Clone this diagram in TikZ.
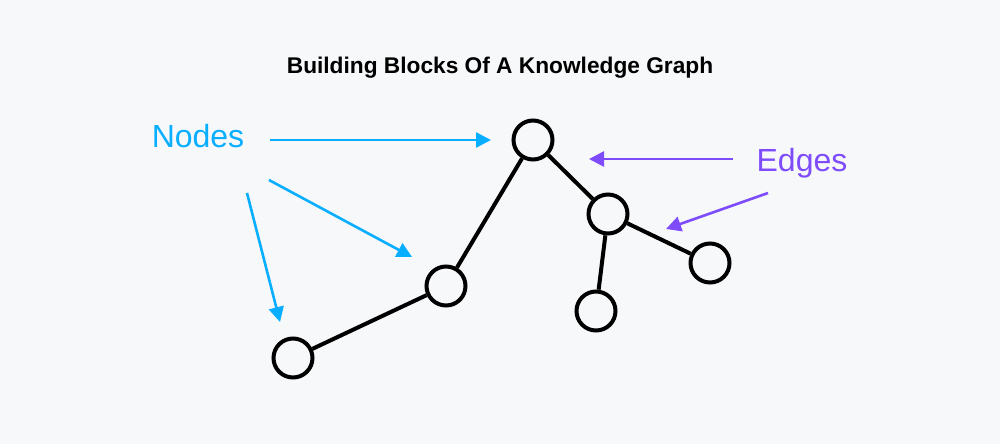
\documentclass[tikz,border=0pt]{standalone}
\usepackage{fontspec}
\setmainfont{Liberation Sans}
\usetikzlibrary{arrows.meta}
\definecolor{bgc}{RGB}{247,248,250}
\definecolor{nodeblue}{RGB}{8,174,255}
\definecolor{edgepurple}{RGB}{126,76,250}
\tikzset{
  kgnode/.style={circle,draw=black,line width=4pt,minimum size=39pt,inner sep=0pt,fill=bgc},
  kgedge/.style={line width=4pt,draw=black},
  bluearrow/.style={draw=nodeblue,line width=2.6pt,-{Triangle[length=15pt,width=15pt]}},
  purplearrow/.style={draw=edgepurple,line width=2.6pt,-{Triangle[length=15pt,width=15pt]}},
  lbl/.style={font=\fontsize{32}{37}\selectfont,inner sep=0pt}
}
\begin{document}
\begin{tikzpicture}[x=1pt,y=-1pt]
\fill[bgc] (0,0) rectangle (1000,444);
\useasboundingbox (0,0) rectangle (1000,444);
\node[font=\bfseries\fontsize{22.7}{27}\selectfont] (title) at (500,68) {Building Blocks Of A Knowledge Graph};
% graph nodes
\node[kgnode] (n1) at (533,140) {};
\node[kgnode] (n2) at (608,214) {};
\node[kgnode] (n3) at (710,263) {};
\node[kgnode] (n4) at (596,311) {};
\node[kgnode] (n5) at (446,286) {};
\node[kgnode] (n6) at (293,358) {};
\draw[kgedge] (n6) -- (n5);
\draw[kgedge] (n5) -- (n1);
\draw[kgedge] (n1) -- (n2);
\draw[kgedge] (n2) -- (n3);
\draw[kgedge] (n2) -- (n4);
% labels
\node[lbl,text=nodeblue] (nodes) at (198,136) {Nodes};
\node[lbl,text=edgepurple] (edges) at (802,163) {Edges};
% arrow endpoints
\coordinate (a1s) at (270,140); \coordinate (a1e) at (491,140);
\coordinate (a2s) at (269,180); \coordinate (a2e) at (412,257);
\coordinate (a3s) at (247,193); \coordinate (a3e) at (280,322);
\coordinate (b1s) at (733,159); \coordinate (b1e) at (589,159);
\coordinate (b2s) at (768,193); \coordinate (b2e) at (666,229);
\draw[bluearrow] (a1s) -- (a1e);
\draw[bluearrow] (a2s) -- (a2e);
\draw[bluearrow] (a3s) -- (a3e);
\draw[purplearrow] (b1s) -- (b1e);
\draw[purplearrow] (b2s) -- (b2e);
\end{tikzpicture}
\end{document}
